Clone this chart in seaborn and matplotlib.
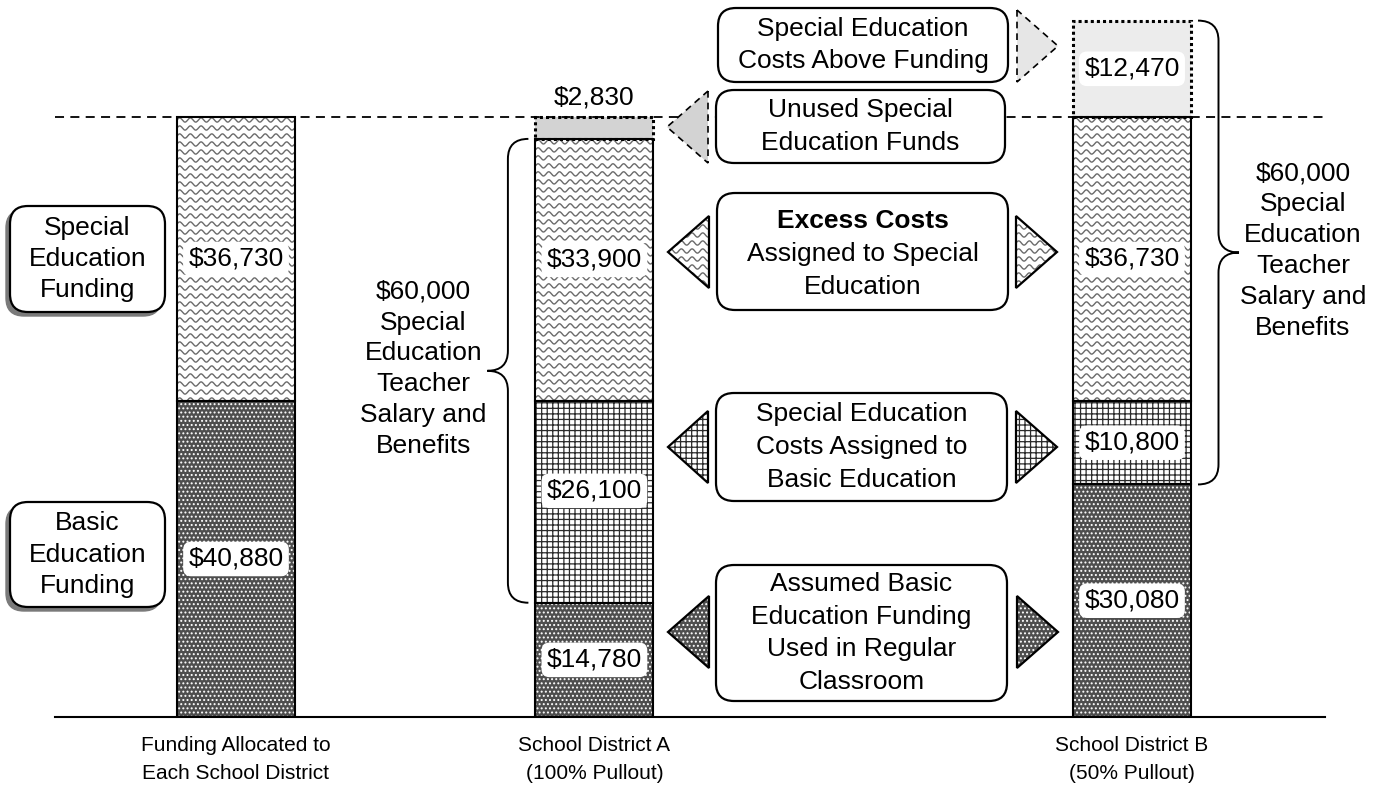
import matplotlib
matplotlib.use("Agg")
import matplotlib.pyplot as plt
import matplotlib.transforms as mtransforms
import numpy as np
import pandas as pd
import seaborn as sns
from matplotlib import font_manager
from matplotlib.lines import Line2D
from matplotlib.patches import FancyBboxPatch, PathPatch, Polygon, Rectangle
from matplotlib.path import Path


BAR_NAMES = [
    "Funding Allocated to\nEach School District",
    "School District A\n(100% Pullout)",
    "School District B\n(50% Pullout)",
]
SEGMENTS = ["basic", "assigned", "special", "gap"]
BASIC_FUNDING_USED = [40880, 14780, 30080]
COSTS_ASSIGNED_TO_BASIC = [0, 26100, 10800]
SPECIAL_EDUCATION = [36730, 33900, 36730]
GAP = [0, 2830, 12470]  # unused funds (A) / costs above funding (B)
TEACHER_COST = 60000

# canvas layout in pixels, y measured from the top
W, H = 1382, 788
AX_LEFT, AX_RIGHT, BASELINE = 55, 1325, 717
FIRST_BAR_PX, SLOT_PX, BAR_PX = 236, 179.2, 118
FUNDING_TOP_PX = 117
ORDER = [BAR_NAMES[0], " ", BAR_NAMES[1], "  ", "   ", BAR_NAMES[2]]

DARK = "#4e4e4e"
WAVE = "#6a6a6a"
GAP_COLORS = {BAR_NAMES[1]: "#d3d3d3", BAR_NAMES[2]: "#ececec"}
LABEL_NUDGE_PX = {(BAR_NAMES[1], "special"): -10, (BAR_NAMES[1], "assigned"): -11}
BRACE_SIDE = {BAR_NAMES[1]: -1, BAR_NAMES[2]: 1}

BOXES = [
    ("Special Education\nCosts Above Funding", (718, 8, 1008, 82)),
    ("Unused Special\nEducation Funds", (716, 90, 1005, 163)),
    (None, (717, 193, 1008, 310)),
    ("Special Education\nCosts Assigned to\nBasic Education", (716, 393, 1007, 501)),
    ("Assumed Basic\nEducation Funding\nUsed in Regular\nClassroom", (716, 565, 1007, 701)),
]
SIDE_BOXES = [
    ("Special\nEducation\nFunding", (10, 206, 165, 312)),
    ("Basic\nEducation\nFunding", (10, 502, 165, 607)),
]
TRIANGLES = [
    ("gap", 1017, 1058, 46, "#e6e6e6"),
    ("gap", 708, 667, 127, "#d3d3d3"),
    ("special", 709, 668, 252, None),
    ("special", 1016, 1057, 252, None),
    ("assigned", 708, 668, 447, None),
    ("assigned", 1016, 1057, 447, None),
    ("basic", 709, 668, 632, None),
    ("basic", 1017, 1058, 632, None),
]

PIX = mtransforms.Affine2D().scale(1, -1).translate(0, H)
IDENT = mtransforms.IdentityTransform()


def add_waves(parent, clip, zorder):
    box = clip.get_window_extent()
    xs = np.arange(box.x0 - 6, box.x1 + 6, 0.5)
    for yc in np.arange(box.y1 - 3, box.y0 - 8, -8.0):
        ys = yc + 2.1 * np.sin(2 * np.pi * (xs - box.x0) / 10.7)
        line = Line2D(xs, ys, transform=IDENT, color=WAVE, lw=1.0, zorder=zorder)
        parent.add_artist(line)
        line.set_clip_path(clip)


def decorate(patch, segment, parent, zorder, gap_color=None):
    patch.set_linewidth(0)
    if segment == "basic":
        patch.set_facecolor(DARK)
        patch.set_edgecolor("white")
        patch.set_hatch("....")
    elif segment == "assigned":
        patch.set_facecolor("white")
        patch.set_edgecolor("#2a2a2a")
        patch.set_hatch("+++")
    elif segment == "special":
        patch.set_facecolor("white")
        add_waves(parent, patch, zorder)
    else:
        patch.set_facecolor(gap_color)


def draw_brace(fig, x_end, x_tip, y0, y1, r=20):
    xm = (x_end + x_tip) / 2
    ym = (y0 + y1) / 2
    verts = [
        (x_end, y1), (xm, y1), (xm, y1 - r),
        (xm, ym + r),
        (xm, ym), (x_tip, ym),
        (xm, ym), (xm, ym - r),
        (xm, y0 + r),
        (xm, y0), (x_end, y0),
    ]
    codes = [Path.MOVETO, Path.CURVE3, Path.CURVE3, Path.LINETO,
             Path.CURVE3, Path.CURVE3, Path.CURVE3, Path.CURVE3,
             Path.LINETO, Path.CURVE3, Path.CURVE3]
    fig.add_artist(PathPatch(Path(verts, codes), fill=False, ec="black",
                             lw=1.4, transform=IDENT))


def rounded_box(fig, rect, shadow=False):
    x0, y0, x1, y1 = rect
    style = "round,pad=0,rounding_size=18"
    if shadow:
        fig.add_artist(FancyBboxPatch((x0 - 4, y0 + 4), x1 - x0, y1 - y0, boxstyle=style,
                                      transform=PIX, fc="#7a7a7a", ec="#7a7a7a", lw=1))
    fig.add_artist(FancyBboxPatch((x0, y0), x1 - x0, y1 - y0, boxstyle=style,
                                  transform=PIX, fc="white", ec="black", lw=1.6))


sns.set_style("white")
plt.rcParams["font.family"] = ["Liberation Sans", "DejaVu Sans"]
plt.rcParams["text.color"] = "black"
plt.rcParams["xtick.color"] = "black"
plt.rcParams["hatch.linewidth"] = 0.9

installed = {f.name for f in font_manager.fontManager.ttflist}
narrow = "Liberation Sans Narrow" in installed
cat_font = "Liberation Sans Narrow" if narrow else "Liberation Sans"
cat_size = 15.5 if narrow else 15

rows = []
for i, name in enumerate(BAR_NAMES):
    bottom = 0
    values = [BASIC_FUNDING_USED, COSTS_ASSIGNED_TO_BASIC, SPECIAL_EDUCATION, GAP]
    for segment, series in zip(SEGMENTS, values):
        rows.append({"bar": name, "segment": segment, "value": series[i],
                     "bottom": bottom, "pos": ORDER.index(name)})
        bottom += series[i]
df = pd.DataFrame(rows)

funding_total = df.loc[df["bar"] == BAR_NAMES[0], "value"].sum()
ymax = funding_total * BASELINE / (BASELINE - FUNDING_TOP_PX)
px_to_y = ymax / BASELINE

fig = plt.figure(figsize=(W / 100, H / 100), dpi=100)
ax = fig.add_axes([AX_LEFT / W, (H - BASELINE) / H,
                   (AX_RIGHT - AX_LEFT) / W, BASELINE / H])

layers = {}
for segment in SEGMENTS:
    sub = df[(df["segment"] == segment) & (df["value"] > 0)].sort_values("pos")
    n0 = len(ax.patches)
    sns.barplot(data=sub, x="bar", y="value", order=ORDER, color="white",
                saturation=1, errorbar=None, width=BAR_PX / SLOT_PX,
                bottom=sub["bottom"].to_numpy(), linewidth=0, ax=ax)
    layers[segment] = list(zip(sub.itertuples(), ax.patches[n0:]))

ax.set_xlim(-(FIRST_BAR_PX - AX_LEFT) / SLOT_PX, (AX_RIGHT - FIRST_BAR_PX) / SLOT_PX)
ax.set_ylim(0, ymax)
ax.set(xlabel="", ylabel="")
ax.set_yticks([])
sns.despine(ax=ax, left=True)
ax.spines["bottom"].set_color("black")
ax.spines["bottom"].set_linewidth(1.5)
ax.set_xticks([ORDER.index(n) for n in BAR_NAMES])
ax.set_xticklabels(BAR_NAMES, fontsize=cat_size, family=cat_font, linespacing=1.56)
ax.tick_params(axis="x", length=0, pad=14)

for segment, items in layers.items():
    for row, patch in items:
        decorate(patch, segment, ax, 2, GAP_COLORS.get(row.bar))
        if segment == "gap":
            style = dict(ls=(0, (1, 1)), lw=2.2, zorder=3.5)
        else:
            style = dict(ls="-", lw=1.5, zorder=3)
        ax.add_patch(Rectangle(patch.get_xy(), patch.get_width(), patch.get_height(),
                               fill=False, ec="black", **style))

ax.axhline(funding_total, color="black", ls=(0, (5, 3.5)), lw=1.3, zorder=2.8)

# value labels
for row in df.itertuples():
    if row.value == 0:
        continue
    if row.value / px_to_y < 40:
        ax.text(row.pos, row.bottom + row.value + 20 * px_to_y, f"${row.value:,}",
                ha="center", va="center", fontsize=19, zorder=5)
        continue
    nudge = LABEL_NUDGE_PX.get((row.bar, row.segment), 0)
    ax.text(row.pos, row.bottom + row.value / 2 - nudge * px_to_y, f"${row.value:,}",
            ha="center", va="center", fontsize=19, zorder=5,
            bbox=dict(boxstyle="round,pad=0.2,rounding_size=0.3", fc="white", ec="none"))

# braces for the $60,000 teacher cost
for name, side in BRACE_SIDE.items():
    basic_top = df.loc[(df["bar"] == name) & (df["segment"] == "basic"), "value"].iloc[0]
    bar_patch = layers["basic"][[r.bar for r, _ in layers["basic"]].index(name)][1]
    ext = bar_patch.get_window_extent()
    edge = ext.x1 if side > 0 else ext.x0
    y0 = ax.transData.transform((0, basic_top))[1]
    y1 = ax.transData.transform((0, basic_top + TEACHER_COST))[1]
    draw_brace(fig, edge + side * 7, edge + side * 48, y0, y1)
    fig.text(edge + side * 112, (y0 + y1) / 2 + 2,
             f"${TEACHER_COST:,}\nSpecial\nEducation\nTeacher\nSalary and\nBenefits",
             transform=IDENT, ha="center", va="center", fontsize=19, linespacing=1.36)

# callout boxes
for text, rect in BOXES:
    rounded_box(fig, rect)
    cx, cy = (rect[0] + rect[2]) / 2, (rect[1] + rect[3]) / 2
    if text is None:
        fig.text(cx, cy - 31, "Excess Costs", transform=PIX, ha="center", va="center",
                 fontsize=19, fontweight="bold")
        fig.text(cx, cy + 19, "Assigned to Special\nEducation", transform=PIX,
                 ha="center", va="center", fontsize=19, linespacing=1.47)
    else:
        fig.text(cx, cy, text, transform=PIX, ha="center", va="center",
                 fontsize=19, linespacing=1.47)

for text, rect in SIDE_BOXES:
    rounded_box(fig, rect, shadow=True)
    cx, cy = (rect[0] + rect[2]) / 2, (rect[1] + rect[3]) / 2
    fig.text(cx, cy, text, transform=PIX, ha="center", va="center",
             fontsize=19, linespacing=1.38)

# pointer triangles
for segment, base_x, tip_x, y_mid, face in TRIANGLES:
    pts = [(base_x, y_mid - 36), (base_x, y_mid + 36), (tip_x, y_mid)]
    tri = Polygon(pts, closed=True, transform=PIX)
    fig.add_artist(tri)
    decorate(tri, segment, fig, 2, face)
    if segment == "gap":
        outline = dict(ls=(0, (4, 3)), lw=1.2)
    else:
        outline = dict(ls="-", lw=1.6)
    fig.add_artist(Polygon(pts, closed=True, transform=PIX, fill=False,
                           ec="black", zorder=3, **outline))

fig.savefig("out.png", dpi=100)
